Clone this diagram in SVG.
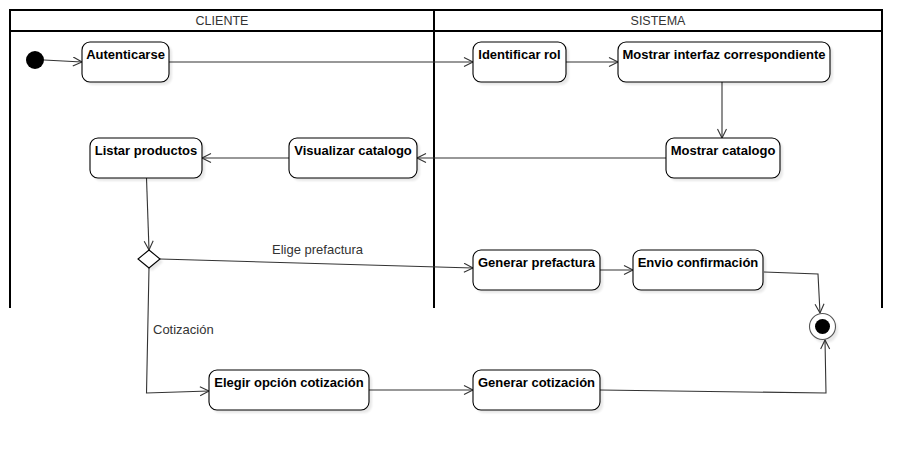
<svg xmlns="http://www.w3.org/2000/svg" width="922" height="450" viewBox="0 0 922 450">
<defs>
<style>
.lane{fill:none;stroke:#000;stroke-width:2}
.hdr{font-family:"Liberation Sans",Arial,sans-serif;font-size:12.5px;fill:#333;text-anchor:middle}
.node rect.b{fill:#fff;stroke:#000;stroke-width:1.1}
.shadow{fill:#000;opacity:0.09}
.nt{font-family:"Liberation Sans",Arial,sans-serif;font-size:13px;font-weight:bold;fill:#000;text-anchor:middle}
.lbl{font-family:"Liberation Sans",Arial,sans-serif;font-size:13px;fill:#333}
.edge{fill:none;stroke:#333;stroke-width:1.1}
</style>
<marker id="arr" markerWidth="12" markerHeight="12" refX="10" refY="5" orient="auto" markerUnits="userSpaceOnUse">
<path d="M1,0.5 L10,5 L1,9.5" fill="none" stroke="#333" stroke-width="1.1"/>
</marker>
<filter id="blur" x="-10%" y="-10%" width="120%" height="130%"><feGaussianBlur stdDeviation="1.2"/></filter>
</defs>
<rect width="922" height="450" fill="#fff"/>

<g id="swimlanes">
<path class="lane" d="M10,308 V10 H882 V308 M10,31 H882 M434,10 V308"/>
<text class="hdr" x="222" y="25">CLIENTE</text>
<text class="hdr" x="658" y="25">SISTEMA</text>
</g>

<g id="connectors">
<path class="edge" d="M44,60 L82,62" marker-end="url(#arr)"/>
<path class="edge" d="M169,62 L473,62" marker-end="url(#arr)"/>
<path class="edge" d="M566,62 L618,62" marker-end="url(#arr)"/>
<path class="edge" d="M722,82 L722,138" marker-end="url(#arr)"/>
<path class="edge" d="M666,158 L417,158" marker-end="url(#arr)"/>
<path class="edge" d="M289,158 L202,158" marker-end="url(#arr)"/>
<path class="edge" d="M146.5,178 L149,250" marker-end="url(#arr)"/>
<path class="edge" d="M160,259 L473,268" marker-end="url(#arr)"/>
<path class="edge" d="M600,270 L633,270" marker-end="url(#arr)"/>
<path class="edge" d="M764,272 L818,274 L820,313" marker-end="url(#arr)"/>
<path class="edge" d="M149,268 L146.5,393 L209,391" marker-end="url(#arr)"/>
<path class="edge" d="M369,390 L473,390" marker-end="url(#arr)"/>
<path class="edge" d="M600,390 L826,393 L825,340" marker-end="url(#arr)"/>
<text class="lbl" x="272" y="254">Elige prefactura</text>
<text class="lbl" x="153" y="334">Cotización</text>
</g>

<g id="start">
<circle cx="35" cy="60" r="9" fill="#000"/>
</g>

<g id="n_autenticarse" class="node">
<rect class="shadow" x="85" y="45" width="87" height="40" rx="8" filter="url(#blur)"/>
<rect class="b" x="82" y="42" width="87" height="40" rx="8"/>
<text class="nt" x="125.5" y="59">Autenticarse</text>
</g>

<g id="n_identificar" class="node">
<rect class="shadow" x="476" y="45" width="93" height="40" rx="8" filter="url(#blur)"/>
<rect class="b" x="473" y="42" width="93" height="40" rx="8"/>
<text class="nt" x="519.5" y="59">Identificar rol</text>
</g>

<g id="n_interfaz" class="node">
<rect class="shadow" x="621" y="45" width="212" height="40" rx="8" filter="url(#blur)"/>
<rect class="b" x="618" y="42" width="212" height="40" rx="8"/>
<text class="nt" x="724" y="59">Mostrar interfaz correspondiente</text>
</g>

<g id="n_mostrar_catalogo" class="node">
<rect class="shadow" x="669" y="141" width="114" height="40" rx="8" filter="url(#blur)"/>
<rect class="b" x="666" y="138" width="114" height="40" rx="8"/>
<text class="nt" x="723" y="155">Mostrar catalogo</text>
</g>

<g id="n_visualizar" class="node">
<rect class="shadow" x="292" y="141" width="128" height="40" rx="8" filter="url(#blur)"/>
<rect class="b" x="289" y="138" width="128" height="40" rx="8"/>
<text class="nt" x="353" y="155">Visualizar catalogo</text>
</g>

<g id="n_listar" class="node">
<rect class="shadow" x="93" y="141" width="112" height="40" rx="8" filter="url(#blur)"/>
<rect class="b" x="90" y="138" width="112" height="40" rx="8"/>
<text class="nt" x="146" y="155">Listar productos</text>
</g>

<g id="decision">
<path d="M152,253 L163,262 L152,271 L141,262 Z" class="shadow" filter="url(#blur)"/>
<path d="M149,250 L160,259 L149,268 L138,259 Z" fill="#fff" stroke="#000" stroke-width="1.1"/>
</g>

<g id="n_prefactura" class="node">
<rect class="shadow" x="476" y="253" width="127" height="40" rx="8" filter="url(#blur)"/>
<rect class="b" x="473" y="250" width="127" height="40" rx="8"/>
<text class="nt" x="536.5" y="267">Generar prefactura</text>
</g>

<g id="n_envio" class="node">
<rect class="shadow" x="636" y="253" width="130" height="40" rx="8" filter="url(#blur)"/>
<rect class="b" x="633" y="250" width="130" height="40" rx="8"/>
<text class="nt" x="698" y="267">Envio confirmación</text>
</g>

<g id="end">
<circle cx="825" cy="330" r="13" class="shadow" filter="url(#blur)"/>
<circle cx="822.5" cy="326.5" r="13" fill="#fff" stroke="#555" stroke-width="1.1"/>
<circle cx="822.5" cy="326.5" r="7.5" fill="#000"/>
</g>

<g id="n_elegir" class="node">
<rect class="shadow" x="212" y="373" width="160" height="40" rx="8" filter="url(#blur)"/>
<rect class="b" x="209" y="370" width="160" height="40" rx="8"/>
<text class="nt" x="289" y="387">Elegir opción cotización</text>
</g>

<g id="n_gen_cotizacion" class="node">
<rect class="shadow" x="476" y="373" width="127" height="40" rx="8" filter="url(#blur)"/>
<rect class="b" x="473" y="370" width="127" height="40" rx="8"/>
<text class="nt" x="536.5" y="387">Generar cotización</text>
</g>
</svg>
